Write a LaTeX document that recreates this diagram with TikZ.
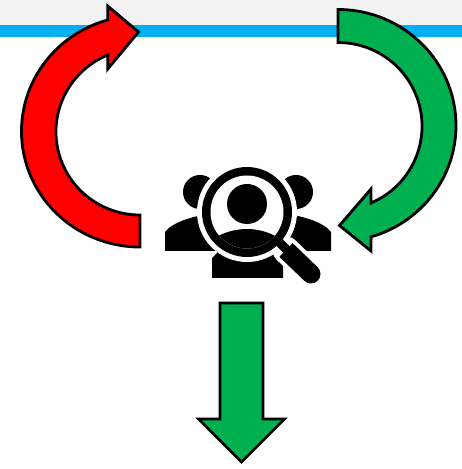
\documentclass[tikz,border=0pt]{standalone}
\usepackage{tikz}
\definecolor{bandgray}{HTML}{F2F2F2}
\definecolor{bandblue}{HTML}{00B0F0}
\definecolor{arrowgreen}{HTML}{00B050}
\begin{document}
\begin{tikzpicture}[x=1pt,y=1pt]
\useasboundingbox (0,0) rectangle (462,469);
\tikzstyle{bigarrow} = [draw=black,line width=2.8pt,miter limit=10]
\tikzstyle{halo} = [white,line cap=round]
% header band
\fill [bandgray] (0,444) rectangle (462,469);
\fill [bandblue] (0,432) rectangle (462,444);
%%%%%%%%%%%%%%%%%%%%%%%%%%%%%
% people behind the lens
%%%%%%%%%%%%%%%%%%%%%%%%%%%%%
\fill [black] (200,277) circle (17);
\fill [black] (296,277) circle (17);
\fill [black] (165,218) -- (165,237) .. controls (171,245) and (185,250) .. (198,253) -- (225,230) -- (225,218) -- cycle;
\fill [black] (331,218) -- (331,237) .. controls (325,245) and (311,250) .. (298,253) -- (270,230) -- (270,218) -- cycle;
\fill [black] (212,191) -- (283,191) -- (283,235) -- (225,235) -- (217,216) -- (212,211) -- cycle;
% lens
\fill [white] (247,257) circle (50);
\draw [halo,line width=27pt] (286,219) -- (311,195);
\fill [black] (247,257) circle (45);
\fill [white] (247,257) circle (36.5);
\fill [black] (247,265) circle (20);
\begin{scope}
\clip (247,257) circle (36.5);
\fill [black] (210,226) -- (218,233) .. controls (228,238) and (238,240) .. (247,240) .. controls (256,240) and (266,238) .. (275,233) -- (284,226) -- (284,210) -- (210,210) -- cycle;
\end{scope}
% handle
\draw [black,line width=9pt] (276,230) -- (288,218);
\draw [black,line width=19pt] (286,219) -- (311,195);
\fill [black] (311,195) circle (9.5);
%%%%%%%%%%%%%%%%%%%%%%%%%%%%%
% arrows
%%%%%%%%%%%%%%%%%%%%%%%%%%%%%
\filldraw [bigarrow,fill=red] (140,222) arc[start angle=270,end angle=105.8,x radius=118.5,y radius=115.7] -- (107.7,463) -- (138.5,437) -- (107.7,400) -- (107.7,414) arc[start angle=112.6,end angle=270,x radius=84,y radius=83.2] -- cycle;
\filldraw [bigarrow,fill=arrowgreen] (338,459.5) arc[start angle=90,end angle=-73.7,x radius=118,y radius=116] -- (371,218) -- (339.5,243.5) -- (371,280) -- (371,266) arc[start angle=-66.9,end angle=90,x radius=84,y radius=83.6] -- cycle;
\filldraw [bigarrow,fill=arrowgreen] (220,166) -- (220,50) -- (198.5,50) -- (241.5,7) -- (284.5,50) -- (263,50) -- (263,166) -- cycle;
\end{tikzpicture}
\end{document}
